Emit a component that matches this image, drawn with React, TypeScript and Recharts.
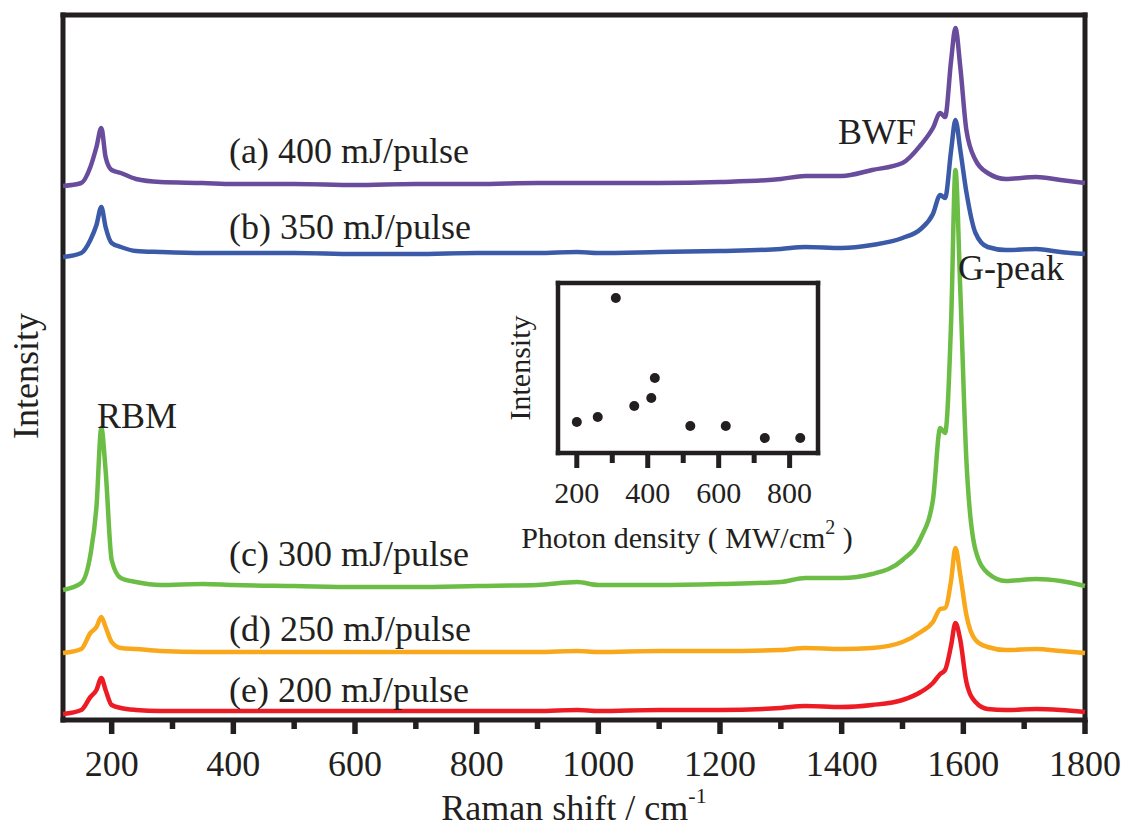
import React from 'react';
import {
  LineChart,
  Line,
  XAxis,
  YAxis,
  ReferenceLine,
  ScatterChart,
  Scatter,
} from 'recharts';

// Raman shift grid (cm-1)
const shifts = [
  120, 150, 165, 175, 183, 190, 200, 215, 240, 280, 350, 400, 500, 600, 700, 800, 900, 965, 1000,
  1100, 1200, 1300, 1340, 1400, 1450, 1500, 1530, 1550, 1562, 1570, 1580, 1587, 1595, 1605, 1620,
  1640, 1670, 1720, 1760, 1800,
];

// offset intensities (arb. units)
const pulse400 = [
  531, 534, 550, 570, 589, 560, 547, 544, 538, 535, 534, 533, 533, 532, 533, 533, 534, 534, 534,
  534, 535, 538, 541, 541, 547, 554, 572, 589, 604, 600, 657, 689, 650, 587, 557, 544, 538, 540,
  537, 534,
];
const pulse350 = [
  460, 464, 477, 492, 510, 490, 474, 470, 466, 465, 464, 464, 464, 463, 463, 464, 464, 465, 464,
  465, 466, 468, 470, 469, 472, 479, 488, 503, 522, 519, 567, 597, 567, 525, 484, 470, 467, 468,
  465, 463,
];
const pulse300 = [
  127, 134, 162, 210, 289, 247, 157, 139, 135, 132, 133, 132, 131, 130, 130, 131, 132, 135, 132,
  132, 133, 135, 139, 139, 143, 157, 179, 217, 289, 284, 397, 547, 427, 257, 167, 144, 136, 138,
  136, 131,
];
const pulse250 = [
  64, 68, 84, 90, 100, 90, 75, 69, 68, 66, 65, 65, 65, 65, 65, 65, 65, 66, 65, 66, 66, 67, 69, 68,
  69, 75, 85, 95, 108, 109, 137, 169, 142, 102, 77, 70, 67, 68, 66, 64,
];
const pulse200 = [
  3, 7, 20, 27, 39, 27, 12, 9, 7, 6, 6, 6, 6, 6, 6, 6, 6, 7, 6, 7, 7, 9, 11, 10, 12, 17, 25, 34, 43,
  47, 72, 94, 77, 35, 15, 8, 7, 8, 7, 5,
];

const shiftTicks = [200, 300, 400, 500, 600, 700, 800, 900, 1000, 1100, 1200, 1300, 1400, 1500, 1600, 1700, 1800];

// inset: G-peak intensity vs photon density
const photonDensity = [200, 259, 310, 362, 410, 420, 520, 620, 730, 830];
const insetIntensity = [31, 36, 155, 47, 55, 75, 27, 27, 15, 15];
const densityTicks = [200, 300, 400, 500, 600, 700, 800];

const rows = shifts.map((s, i) => ({
  shift: s,
  a: pulse400[i],
  b: pulse350[i],
  c: pulse300[i],
  d: pulse250[i],
  e: pulse200[i],
}));

const insetRows = photonDensity.map((d, i) => ({ density: d, intensity: insetIntensity[i] }));

const ink = '#231f20';
const serif = '"Liberation Serif", "Times New Roman", serif';

const makeTick = (majorLen: number, minorLen: number, labelDy: number, fontSize: number, width: number) =>
  (props: any) => {
    const { x, y, payload } = props;
    const major = payload.value % 200 === 0;
    return (
      <g>
        <line x1={x} x2={x} y1={y} y2={y + (major ? majorLen : minorLen)} stroke={ink} strokeWidth={width} />
        {major && (
          <text x={x} y={y + labelDy} textAnchor="middle" fontFamily={serif} fontSize={fontSize} fill={ink}>
            {payload.value}
          </text>
        )}
      </g>
    );
  };

const MainTick = makeTick(14, 9, 56, 36, 5.5);
const InsetTick = makeTick(15, 10, 50, 30, 5);

const Dot = (props: any) => <circle cx={props.cx} cy={props.cy} r={5} fill={ink} />;

const series = [
  { key: 'a', color: '#6a4c9c' },
  { key: 'b', color: '#3b5ba9' },
  { key: 'c', color: '#6bbd45' },
  { key: 'd', color: '#f9a81b' },
  { key: 'e', color: '#ed1c24' },
];

const App: React.FC = () => {
  return (
    <div style={{ position: 'relative', width: 1126, height: 827 }}>
      <style>{'body{margin:0}'}</style>

      {/* main spectra */}
      <LineChart width={1126} height={827} data={rows} margin={{ top: 15, right: 41, bottom: 47, left: 63 }}>
        <XAxis
          type="number"
          dataKey="shift"
          domain={[120, 1800]}
          ticks={shiftTicks}
          interval={0}
          height={60}
          tickLine={false}
          tickSize={0}
          tickMargin={0}
          tick={MainTick}
          axisLine={{ stroke: ink, strokeWidth: 5, strokeLinecap: 'square' }}
        />
        <YAxis type="number" domain={[-3, 702]} width={0} tick={false} tickLine={false} axisLine={false} />
        <ReferenceLine x={120} stroke={ink} strokeWidth={5} strokeLinecap="square" />
        <ReferenceLine y={702} stroke={ink} strokeWidth={5} strokeLinecap="square" />
        <ReferenceLine x={1800} stroke={ink} strokeWidth={5} strokeLinecap="square" />
        {series.map((s) => (
          <Line
            key={s.key}
            type="monotone"
            dataKey={s.key}
            stroke={s.color}
            strokeWidth={4.5}
            strokeLinejoin="round"
            dot={false}
            activeDot={false}
            isAnimationActive={false}
          />
        ))}
      </LineChart>

      {/* inset */}
      <div style={{ position: 'absolute', left: 490, top: 270 }}>
        <ScatterChart width={380} height={290} margin={{ top: 13, right: 52, bottom: 67, left: 68 }}>
          <XAxis
            type="number"
            dataKey="density"
            domain={[147, 880]}
            ticks={densityTicks}
            interval={0}
            height={40}
            tickLine={false}
            tickSize={0}
            tickMargin={0}
            tick={InsetTick}
            axisLine={{ stroke: ink, strokeWidth: 4.5, strokeLinecap: 'square' }}
          />
          <YAxis type="number" dataKey="intensity" domain={[0, 170]} width={0} tick={false} tickLine={false} axisLine={false} />
          <ReferenceLine x={147} stroke={ink} strokeWidth={4.5} strokeLinecap="square" />
          <ReferenceLine y={170} stroke={ink} strokeWidth={4.5} strokeLinecap="square" />
          <ReferenceLine x={880} stroke={ink} strokeWidth={4.5} strokeLinecap="square" />
          <Scatter data={insetRows} shape={Dot} isAnimationActive={false} />
        </ScatterChart>
      </div>

      {/* annotations */}
      <svg
        width={1126}
        height={827}
        style={{ position: 'absolute', left: 0, top: 0, pointerEvents: 'none' }}
      >
        <g fontFamily={serif} fill={ink} fontSize={36}>
          <text x={229} y={163}>(a) 400 mJ/pulse</text>
          <text x={229} y={239}>(b) 350 mJ/pulse</text>
          <text x={229} y={566}>(c) 300 mJ/pulse</text>
          <text x={229} y={641}>(d) 250 mJ/pulse</text>
          <text x={229} y={702}>(e) 200 mJ/pulse</text>
          <text x={838} y={144}>BWF</text>
          <text x={958} y={280}>G-peak</text>
          <text x={97} y={428}>RBM</text>
          <text x={574} y={820} textAnchor="middle">
            Raman shift / cm<tspan dy={-17} fontSize={22}>-1</tspan>
          </text>
          <text transform="translate(38,376) rotate(-90)" textAnchor="middle">Intensity</text>
        </g>
        <g fontFamily={serif} fill={ink} fontSize={30}>
          <text transform="translate(530,368) rotate(-90)" textAnchor="middle">Intensity</text>
          <text x={687} y={548} textAnchor="middle">
            Photon density ( MW/cm<tspan dy={-14} fontSize={20}>2</tspan>
            <tspan dy={14}> )</tspan>
          </text>
        </g>
      </svg>
    </div>
  );
};

export default App;
